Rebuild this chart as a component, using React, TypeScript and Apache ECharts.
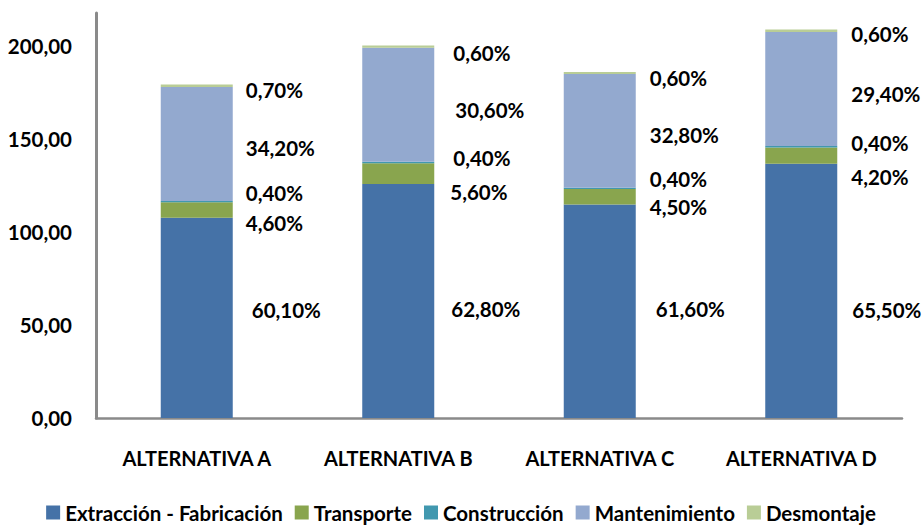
import React, { useEffect, useRef } from "react";
import * as echarts from "echarts";

const categories = ["ALTERNATIVA A", "ALTERNATIVA B", "ALTERNATIVA C", "ALTERNATIVA D"];

const extraccion = [107.8, 125.9, 114.9, 136.8];
const transporte = [8.3, 11.2, 8.4, 8.8];
const construccion = [0.7, 0.8, 0.7, 0.8];
const mantenimiento = [61.4, 61.4, 61.2, 61.4];
const desmontaje = [1.3, 1.2, 1.1, 1.3];

const extraccionPct = ["60,10%", "62,80%", "61,60%", "65,50%"];
const transportePct = ["4,60%", "5,60%", "4,50%", "4,20%"];
const construccionPct = ["0,40%", "0,40%", "0,40%", "0,40%"];
const mantenimientoPct = ["34,20%", "30,60%", "32,80%", "29,40%"];
const desmontajePct = ["0,70%", "0,60%", "0,60%", "0,60%"];

const yTicks = [0, 50, 100, 150, 200];

// label layout tweaks (pixels, relative to bar segment's right edge / centre)
const labelDx = {
  extraccion: [19, 17, 20, 15],
  transporte: [13, 16, 14, 14],
  construccion: [13, 19, 14, 14],
  mantenimiento: [13, 21, 14, 14],
  desmontaje: [13, 19, 14, 14],
};
const labelDy = {
  extraccion: [-8, 8, -2, 19],
  transporte: [13, 18, 10, 21],
  construccion: [-9, -5, -9, -4],
  mantenimiento: [4, 5, 4, 5],
  desmontaje: [4, 6, 5, 3],
};

const FONT = "Lato, 'Open Sans', sans-serif";

export default function App() {
  const ref = useRef<HTMLDivElement>(null);

  useEffect(() => {
    if (!ref.current) return;
    const chart = echarts.init(ref.current, null, { renderer: "svg" });

    const defs = [
      { name: "Extracción - Fabricación", values: extraccion, pct: extraccionPct, dx: labelDx.extraccion, dy: labelDy.extraccion, color: "#4572A7" },
      { name: "Transporte", values: transporte, pct: transportePct, dx: labelDx.transporte, dy: labelDy.transporte, color: "#89A54E" },
      { name: "Construcción", values: construccion, pct: construccionPct, dx: labelDx.construccion, dy: labelDy.construccion, color: "#4198AF" },
      { name: "Mantenimiento", values: mantenimiento, pct: mantenimientoPct, dx: labelDx.mantenimiento, dy: labelDy.mantenimiento, color: "#93A9CF" },
      { name: "Desmontaje", values: desmontaje, pct: desmontajePct, dx: labelDx.desmontaje, dy: labelDy.desmontaje, color: "#B9CD96" },
    ];

    const series = defs.map((d) => ({
      name: d.name,
      type: "bar",
      stack: "total",
      barWidth: 72,
      itemStyle: { color: d.color },
      label: {
        show: true,
        position: "right",
        distance: 0,
        color: "#000",
        fontFamily: FONT,
        fontSize: 20.5,
        fontWeight: "bold",
        formatter: (p: any) => d.pct[p.dataIndex],
      },
      data: d.values.map((v, i) => ({
        value: v,
        label: { offset: [d.dx[i], d.dy[i]] },
      })),
    }));

    chart.setOption({
      animation: false,
      grid: { left: 96, right: 20, top: 13, bottom: 107, containLabel: false },
      legend: {
        data: defs.map((d) => d.name),
        left: "center",
        top: 502,
        padding: 0,
        icon: "rect",
        itemWidth: 14,
        itemHeight: 14,
        itemGap: 12,
        textStyle: { fontFamily: FONT, fontSize: 20.5, fontWeight: "bold", color: "#000" },
      },
      xAxis: {
        type: "category",
        data: categories,
        axisLine: { show: true, lineStyle: { color: "#8a8a8a", width: 2.5 } },
        axisTick: { show: false },
        axisLabel: { fontFamily: FONT, fontSize: 20, fontWeight: "bold", color: "#000", margin: 30 },
      },
      yAxis: {
        type: "value",
        min: 0,
        max: 218,
        interval: 50,
        axisLine: { show: true, lineStyle: { color: "#8a8a8a", width: 3 } },
        axisTick: { show: false },
        splitLine: { show: false },
        axisLabel: {
          fontFamily: FONT,
          fontSize: 20.5,
          fontWeight: "bold",
          color: "#000",
          margin: 24,
          formatter: (v: number) =>
            yTicks.includes(v) ? v.toFixed(2).replace(".", ",") : "",
        },
      },
      series,
    });

    return () => chart.dispose();
  }, []);

  return (
    <div
      ref={ref}
      style={{ position: "fixed", left: 0, top: 0, width: 922, height: 525, background: "#fff" }}
    />
  );
}
